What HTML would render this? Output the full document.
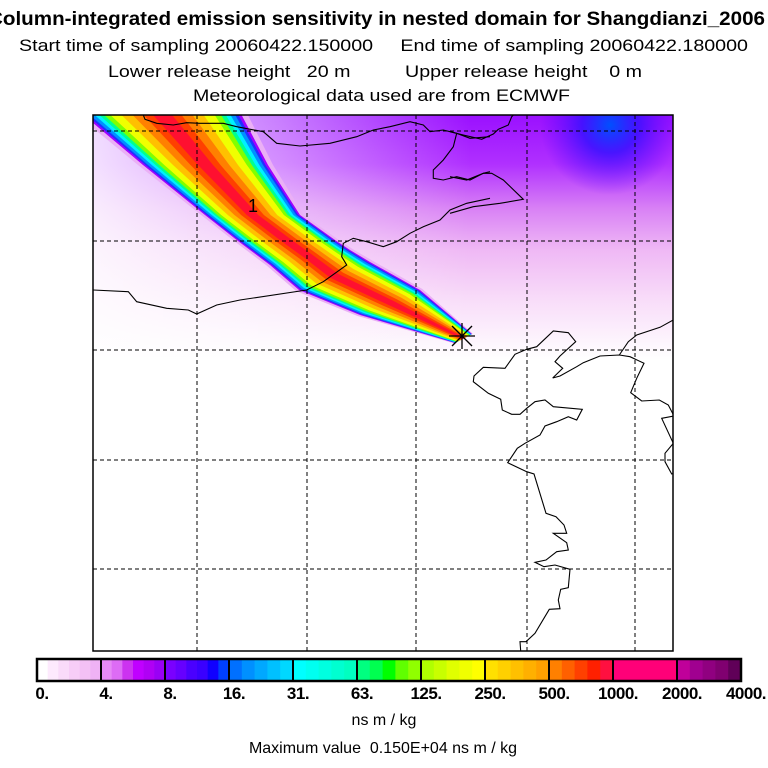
<!DOCTYPE html>
<html><head><meta charset="utf-8"><style>
html,body{margin:0;padding:0;background:#fff;}
svg{display:block;font-family:"Liberation Sans",sans-serif;}
</style></head><body>
<svg id="fig" width="768" height="768" viewBox="0 0 768 768">
<defs>
<linearGradient id="bgV" x1="0" y1="115" x2="0" y2="360" gradientUnits="userSpaceOnUse">
<stop offset="0" stop-color="#9a10ff"/><stop offset="0.2" stop-color="#b030ff"/>
<stop offset="0.38" stop-color="#d880f5"/><stop offset="0.55" stop-color="#efb8f5"/>
<stop offset="0.75" stop-color="#f8dcf9"/><stop offset="1" stop-color="#ffffff"/>
</linearGradient>
<linearGradient id="bgH" x1="93" y1="0" x2="470" y2="0" gradientUnits="userSpaceOnUse">
<stop offset="0" stop-color="#fff" stop-opacity="0.85"/><stop offset="0.5" stop-color="#fff" stop-opacity="0.45"/><stop offset="1" stop-color="#fff" stop-opacity="0"/>
</linearGradient>
<radialGradient id="blueSpot" cx="610" cy="125" r="70" gradientUnits="userSpaceOnUse">
<stop offset="0" stop-color="#0050ff"/><stop offset="0.4" stop-color="#3010ff" stop-opacity="0.8"/><stop offset="1" stop-color="#6000ff" stop-opacity="0"/>
</radialGradient>
<clipPath id="mapClip"><rect x="93" y="115" width="580" height="536"/></clipPath>
</defs>
<g fill="#000">
<text x="-12" y="25" font-size="19" font-weight="bold" textLength="777" lengthAdjust="spacingAndGlyphs">Column-integrated emission sensitivity in nested domain for Shangdianzi_2006</text>
<text x="19" y="51" font-size="17" textLength="729" lengthAdjust="spacingAndGlyphs" xml:space="preserve">Start time of sampling 20060422.150000     End time of sampling 20060422.180000</text>
<text x="108" y="77" font-size="17" textLength="534" lengthAdjust="spacingAndGlyphs" xml:space="preserve">Lower release height   20 m          Upper release height    0 m</text>
<text x="193" y="101" font-size="17" textLength="377" lengthAdjust="spacingAndGlyphs">Meteorological data used are from ECMWF</text>
</g>
<g id="map" clip-path="url(#mapClip)">
<rect x="93" y="115" width="580" height="536" fill="#fff"/>
<rect x="93" y="115" width="580" height="250" fill="url(#bgV)"/>
<rect x="93" y="115" width="580" height="250" fill="url(#bgH)"/>
<rect x="500" y="115" width="173" height="110" fill="url(#blueSpot)"/>
<g id="plume"></g>
<g id="coast" fill="none" stroke="#000" stroke-width="1.1"></g>
<g id="grid" stroke="#000" stroke-width="1" stroke-dasharray="4,3"></g>
<g stroke="#000" stroke-width="1.3">
<line x1="449" y1="336" x2="475" y2="336"/><line x1="462" y1="323" x2="462" y2="349"/>
<line x1="452" y1="326" x2="472" y2="346"/><line x1="452" y1="346" x2="472" y2="326"/>
</g>
<text x="248" y="212" font-size="18" font-weight="100" fill="#000">1</text>
</g>
<rect x="93" y="115" width="580" height="536" fill="none" stroke="#000" stroke-width="1.5"/>
<g id="cbar"></g>
<text x="384" y="725" font-size="16" text-anchor="middle">ns m / kg</text>
<text x="383" y="753" font-size="16" text-anchor="middle" xml:space="preserve">Maximum value  0.150E+04 ns m / kg</text>
</svg>
<script>
const levelLabels = ["0.","4.","8.","16.","31.","63.","125.","250.","500.","1000.","2000.","4000."];
const segColors = [
 ["#ffffff","#fdeafd","#fadbfa","#f7cdf7","#f3c0f5","#efb2f5"],
 ["#e68af5","#dd6cf5","#cc33f0","#c000ff","#b000f5","#9a00f5"],
 ["#7a00ff","#6600ff","#4a00ff","#3a00ff","#1000ff","#0040ff"],
 ["#0070ff","#0090ff","#00a8ff","#00c0ff","#00d8ff"],
 ["#00ffff","#00fff0","#00ffe0","#00ffd0","#00ffc0"],
 ["#00ff80","#00ff50","#00ff00","#60ff00","#90ff00"],
 ["#b0ff00","#c8ff00","#e0ff00","#f0ff00","#ffff00"],
 ["#ffe000","#ffd000","#ffc000","#ffb000","#ffa000"],
 ["#ff8000","#ff6000","#ff4000","#ff2000","#ff1040"],
 ["#ff0078","#ff0078","#ff0078","#ff0078","#ff0078"],
 ["#c0009a","#a00090","#900080","#800070","#600058"]
];
const gridX = [197,307,416,527,635];
const gridY = [131,241,350,460,569];
const plumeLeft  = [[80,112],[143,165],[205,215],[238,241],[270,265],[299,290],[360,315],[455,343]];
const plumeRight = [[240,112],[268,165],[300,215],[335,240],[350,250],[370,262],[420,290],[472,334]];
const bandFracs  = [-0.04,0,0.02,0.04,0.07,0.1,0.13,0.17,0.24,0.31,0.38,0.44];
const bandColors = ["#eab0f5","#a000ff","#2030ff","#0090ff","#00f0ff","#00ff90","#80ff00","#f0ff00","#ffc000","#ff8000","#ff4000","#ff1030"];
const coast2 = [
 [[160,15],[165,28],[200,40],[250,45],[290,38],[330,40],[400,40],[440,50],[520,65],[560,100],[630,108],[720,100],[800,80],[850,60],[900,50],[960,35],[1000,45],[1020,65],[1060,60],[1100,70],[1140,85],[1200,80]],
 [[1100,70],[1090,110],[1060,150],[1030,180],[1030,205],[1060,210],[1100,200],[1140,210],[1180,190],[1200,185]],
 [[10,540],[115,545],[140,575],[230,595],[295,600],[320,612],[380,585],[450,570],[650,540],[700,515],[770,465],[755,440],[760,400],[790,385],[830,395],[880,410],[920,395],[960,370],[1000,350],[1050,330],[1080,300],[1130,280],[1200,265]]
];
const coast3 = [
 [[0,65],[40,75],[95,88],[130,72],[145,58],[175,45],[185,20],[190,15]],
 [[0,200],[50,210],[100,190],[125,190],[160,210],[220,268],[150,280],[70,290],[0,310]]
];
const coast4 = [
 [[398,174],[428,145],[405,125],[420,108],[467,65],[445,38],[400,33],[350,80],[320,88],[285,103],[255,145],[190,142],[162,168],[160,185],[205,220],[242,238],[247,270],[275,283],[300,283],[320,265],[345,245],[375,240],[400,260],[487,268],[470,300],[445,290],[410,305],[375,318],[360,345],[315,370],[292,385],[263,428],[320,455],[342,462],[378,580],[408,590],[432,615],[440,640],[400,640],[440,668],[445,690],[410,695],[378,720],[345,727],[372,740],[405,735],[450,748],[445,803],[422,808],[415,840],[420,866],[388,868],[345,940],[318,965],[300,965],[302,993]],
 [[398,174],[420,168],[470,140],[490,128],[540,108],[598,105],[630,110],[672,130],[650,175],[632,218],[665,243],[718,240],[745,255],[762,288],[725,295],[760,370],[735,400],[735,425],[755,462],[762,460]],
 [[598,105],[625,65],[650,45],[720,22],[760,0]]
];
const NS='http://www.w3.org/2000/svg';
function mk(tag,attrs,parent){const e=document.createElementNS(NS,tag);for(const k in attrs)e.setAttribute(k,attrs[k]);parent.appendChild(e);return e;}
const plume=document.getElementById('plume');
bandFracs.forEach((f,i)=>{
 const l=plumeLeft.map((p,j)=>{const r=plumeRight[j];return [p[0]+(r[0]-p[0])*f,p[1]+(r[1]-p[1])*f];});
 const r=plumeRight.map((p,j)=>{const q=plumeLeft[j];return [p[0]+(q[0]-p[0])*f,p[1]+(q[1]-p[1])*f];});
 const pts=l.concat(r.reverse()).map(p=>p[0].toFixed(1)+','+p[1].toFixed(1)).join(' ');
 const pg=mk('polygon',{points:pts,fill:bandColors[i],'stroke-linejoin':'round'},plume);
 
 
});
const coast=document.getElementById('coast');
function addCoast(list,ox,oy){list.forEach(line=>{
 const pl=mk('polyline',{points:line.map(p=>(ox+p[0]/3).toFixed(1)+','+(oy+p[1]/3).toFixed(1)).join(' ')},coast);
 
 
});}
addCoast(coast2,90,110);addCoast(coast3,450,110);addCoast(coast4,420,320);
const grid=document.getElementById('grid');
gridX.forEach(x=>{const l=mk('line',{x1:x,y1:115,x2:x,y2:651},grid);
 
 });
gridY.forEach(y=>{const l=mk('line',{x1:93,y1:y,x2:673,y2:y},grid);
 
 });
const cb=document.getElementById('cbar');
const cx0=37,segW=64,cy=659,ch=22;
segColors.forEach((cols,s)=>{
 const w=segW/cols.length;
 cols.forEach((c,k)=>{const r=mk('rect',{x:cx0+s*segW+k*w,y:cy,width:w+0.5,height:ch,fill:c},cb);
  
  });
});
for(let s=1;s<segColors.length;s++){const l=mk('line',{x1:cx0+s*segW,y1:cy,x2:cx0+s*segW,y2:cy+ch,stroke:'#000','stroke-width':2},cb);
 
 }
const fr=mk('rect',{x:cx0,y:cy,width:segW*segColors.length,height:ch,fill:'none',stroke:'#000','stroke-width':2.5},cb);


levelLabels.forEach((t,i)=>{const tx=mk('text',{x:cx0+i*segW+5,y:699,'font-size':17,'font-weight':'bold','text-anchor':'middle',transform:'',style:'letter-spacing:-0.5px'},cb);
 tx.textContent=t;
 
 });
</script>
</body></html>
